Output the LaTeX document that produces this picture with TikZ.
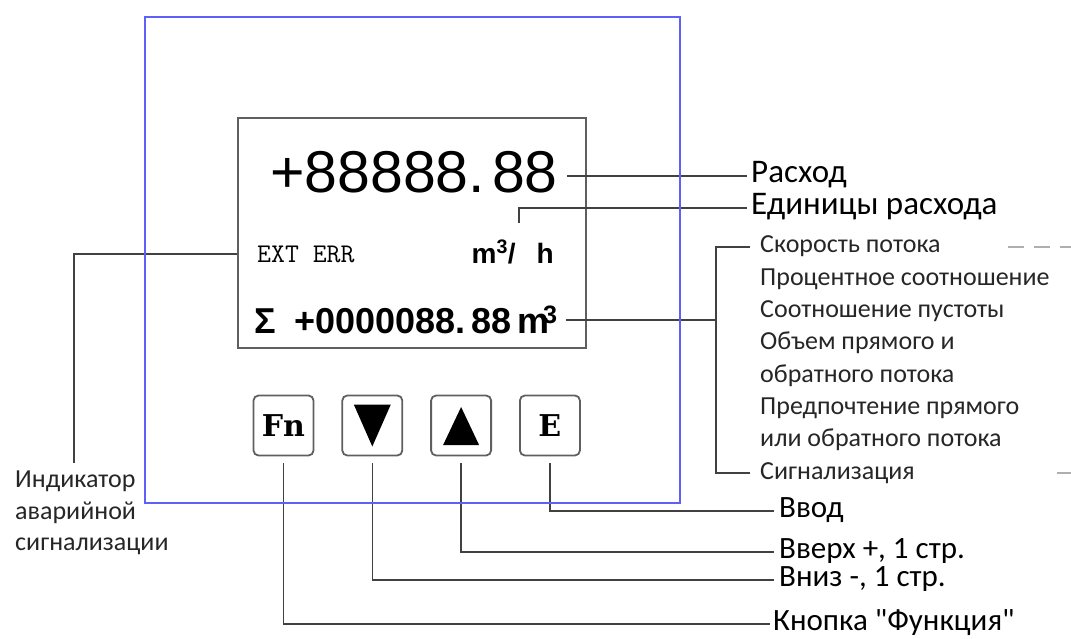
\documentclass[tikz,border=0pt]{standalone}
\usepackage{fontspec}
\newfontfamily\labelfont{Carlito}
\newfontfamily\lcdfont{Liberation Sans}
\newfontfamily\keyfont{DejaVu Serif}
\usepackage{tikz}
\usetikzlibrary{positioning, calc}
\definecolor{PanelBlue}{RGB}{95, 95, 250}
\definecolor{WireGray}{RGB}{65, 65, 65}
\definecolor{EdgeGray}{RGB}{95, 95, 95}
\definecolor{DashGray}{RGB}{175, 175, 175}

\begin{document}
\begin{tikzpicture}[x=1pt, y=-1pt,
    wire/.style={draw=WireGray, line width=1.6pt},
    keybox/.style={draw=EdgeGray, line width=1.8pt, rounded corners=5pt, minimum size=60pt, inner sep=0pt, font=\keyfont\bfseries\fontsize{30}{32}\selectfont},
    biglbl/.style={anchor=west, inner sep=0pt, text height=20pt, text depth=6pt, font=\labelfont\fontsize{33}{35}\selectfont},
    keylbl/.style={biglbl, text height=18pt, text depth=5pt, font=\labelfont\fontsize{31}{33}\selectfont},
    itemlbl/.style={anchor=west, inner sep=0pt, text height=17pt, text depth=5pt, text=black!85, font=\labelfont\fontsize{26}{28}\selectfont}]
  \useasboundingbox (0,0) rectangle (1071,639);

  % display
  \node[draw=EdgeGray, line width=1.8pt, minimum width=348pt, minimum height=230pt, anchor=north west] (lcd) at (237,117) {};
  \node[anchor=base east, inner sep=0pt, font=\lcdfont\fontsize{59}{61}\selectfont] (flow) at (558,193) {+88888.\hspace{7pt}88};
  \node[anchor=base west, inner sep=0pt, font=\ttfamily\fontsize{27}{29}\selectfont] (alarm) at (257,262) {EXT ERR};
  \node[anchor=base east, inner sep=0pt, font=\lcdfont\bfseries\fontsize{28}{30}\selectfont] (unit) at (554,263) {m\textsuperscript{3}/\hspace{21pt}h};
  \node[anchor=base west, inner sep=0pt, font=\lcdfont\bfseries\fontsize{36}{38}\selectfont] (total) at (254,333) {Σ\hspace{19pt}+0000088.\hspace{6pt}88\hspace{6pt}m\kern-7pt\textsuperscript{3}};

  % keys
  \node[keybox] (keyFn) at (283.5,425.5) {Fn};
  \node[keybox, right=27pt of keyFn] (keyDn) {};
  \node[keybox, right=27pt of keyDn] (keyUp) {};
  \node[keybox, right=27pt of keyUp] (keyE) {E};
  \fill ($(keyDn)+(-18.5,-21)$) -- ($(keyDn)+(18.5,-21)$) -- ($(keyDn)+(0,21)$) -- cycle;
  \fill ($(keyUp)+(-18,19.5)$) -- ($(keyUp)+(18,19.5)$) -- ($(keyUp)+(0,-18.5)$) -- cycle;

  % labels
  \node[biglbl] (flowlbl) at (751,176) {Расход};
  \node[biglbl] (unitlbl) at (751,208) {Единицы расхода};
  \foreach \txt [count=\i] in {Скорость потока, Процентное соотношение, Соотношение пустоты, Объем прямого и, обратного потока, Предпочтение прямого, или обратного потока, Сигнализация}
    \node[itemlbl] (item\i) at (760,{247+32.3*(\i-1)}) {\txt};
  \node[anchor=north west, inner sep=0pt, align=left, text=black!85, font=\labelfont\fontsize{26}{31.5}\selectfont] (indic) at (15,471) {Индикатор\\аварийной\\сигнализации};
  \node[keylbl] (enterlbl) at (779,511) {Ввод};
  \node[keylbl] (uplbl) at (779,552) {Вверх +, 1 стр.};
  \node[keylbl] (downlbl) at (779,580) {Вниз -, 1 стр.};
  \node[keylbl] (fnlbl) at (773,624) {Кнопка "Функция"};

  % connectors
  \coordinate (flowtip) at (567,176);
  \coordinate (unittip) at (519,223);
  \coordinate (sumtip) at (566,320);
  \coordinate (brk) at (716,320);
  \coordinate (edge) at (1071,0);
  \draw[wire] (flowtip) -- ([xshift=-4pt]flowlbl.west);
  \draw[wire] (unittip) |- ([xshift=-4pt]unitlbl.west);
  \draw[wire] (sumtip) -- (brk);
  \draw[wire] ([xshift=-10pt]item1.west) -| (brk) |- ([xshift=-10pt]item8.west);
  \draw[DashGray, line width=2pt, dash pattern=on 16pt off 10pt] ([xshift=248pt]item1.west) -- (item1.west -| edge);
  \draw[DashGray, line width=2pt] ([xshift=297pt]item8.west) -- (item8.west -| edge);
  \draw[wire] (alarm.west -| lcd.west) -| ([xshift=59pt,yshift=8pt]indic.north west);
  \draw[wire] ([yshift=-7pt]keyE.south) |- ([xshift=-5pt]enterlbl.west);
  \draw[wire] ([yshift=-7pt]keyUp.south) |- ([xshift=-5pt]uplbl.west);
  \draw[wire] ([yshift=-7pt]keyDn.south) |- ([xshift=-5pt]downlbl.west);
  \draw[wire] ([yshift=-7pt]keyFn.south) |- ([xshift=-3pt]fnlbl.west);

  % front panel
  \node[draw=PanelBlue, line width=2pt, minimum width=535pt, minimum height=486pt, anchor=north west] (panel) at (144,16) {};
\end{tikzpicture}
\end{document}
